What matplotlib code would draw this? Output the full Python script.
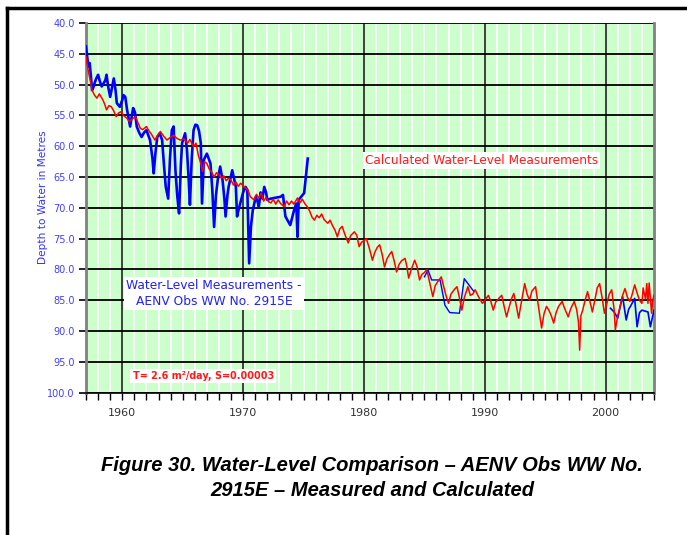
import matplotlib
matplotlib.use("Agg")
import matplotlib.pyplot as plt
import numpy as np
from matplotlib.lines import Line2D

# ---------------- data ----------------
calc_years = [
    1957.0, 1957.2, 1957.4, 1957.5, 1957.7, 1957.9, 1958.1, 1958.25, 1958.4, 1958.55,
    1958.7, 1958.9, 1959.1, 1959.3, 1959.5, 1959.7, 1959.9, 1960.1, 1960.4, 1960.6,
    1960.8, 1961.1, 1961.3, 1961.5, 1961.7, 1962.0, 1962.2, 1962.4, 1962.7, 1962.9,
    1963.15, 1963.4, 1963.7, 1963.95, 1964.25, 1964.5, 1964.8, 1965.1, 1965.4, 1965.6,
    1965.9, 1966.1, 1966.3, 1966.5, 1966.65, 1966.8, 1967.0, 1967.2, 1967.4, 1967.6,
    1967.8, 1968.0, 1968.2, 1968.4, 1968.6, 1968.8, 1969.0, 1969.2, 1969.4, 1969.6,
    1969.8, 1970.0, 1970.2, 1970.4, 1970.6, 1970.9, 1971.1, 1971.3, 1971.5, 1971.7,
    1971.9, 1972.1, 1972.3, 1972.5, 1972.7, 1972.9, 1973.1, 1973.4, 1973.6, 1973.8,
    1974.0, 1974.2, 1974.5, 1974.7, 1974.9, 1975.1, 1975.3, 1975.5, 1975.7, 1975.9,
    1976.1, 1976.3, 1976.5, 1976.7, 1977.0, 1977.2, 1977.4, 1977.6, 1977.8, 1978.0,
    1978.2, 1978.4, 1978.7, 1978.9, 1979.2, 1979.4, 1979.6, 1979.8, 1980.0, 1980.2,
    1980.45, 1980.7, 1980.9, 1981.1, 1981.3, 1981.5, 1981.7, 1981.9, 1982.1, 1982.3,
    1982.5, 1982.7, 1982.9, 1983.1, 1983.4, 1983.55, 1983.7, 1983.95, 1984.2, 1984.4,
    1984.6, 1984.8, 1985.0, 1985.2, 1985.4, 1985.7, 1985.9, 1986.1, 1986.4, 1986.6,
    1986.8, 1987.0, 1987.2, 1987.5, 1987.7, 1987.9, 1988.1, 1988.3, 1988.6, 1988.8,
    1989.0, 1989.2, 1989.5, 1989.8, 1990.0, 1990.3, 1990.5, 1990.7, 1990.9, 1991.2,
    1991.4, 1991.6, 1991.8, 1992.0, 1992.2, 1992.4, 1992.6, 1992.8, 1993.0, 1993.3,
    1993.5, 1993.7, 1993.9, 1994.2, 1994.4, 1994.7, 1994.9, 1995.1, 1995.3, 1995.5,
    1995.7, 1995.9, 1996.1, 1996.4, 1996.6, 1996.9, 1997.1, 1997.4, 1997.6, 1997.75,
    1997.85, 1997.95, 1998.1, 1998.3, 1998.5, 1998.7, 1998.9, 1999.1, 1999.3, 1999.5,
    1999.7, 1999.9, 2000.1, 2000.3, 2000.5, 2000.7, 2000.8, 2001.0, 2001.2, 2001.4,
    2001.6, 2001.8, 2002.0, 2002.2, 2002.4, 2002.6, 2002.8, 2003.0, 2003.1, 2003.3,
    2003.4, 2003.5, 2003.6, 2003.7, 2003.8, 2003.9, 2004.0,
]
calc_depth = [
    45.5, 47.9, 49.8, 50.9, 51.7, 52.2, 51.5, 52.0, 52.5, 53.2,
    54.1, 53.4, 53.6, 54.3, 55.2, 54.6, 54.4, 55.0, 55.5, 56.0,
    55.6, 55.2, 56.2, 57.1, 57.3, 56.8, 57.5, 58.0, 59.0, 58.3,
    57.6, 58.3, 59.0, 58.6, 58.2, 58.7, 59.0, 58.8, 59.5, 58.9,
    60.1, 59.5, 61.5, 62.8, 64.1, 62.5, 62.8, 63.7, 64.2, 65.0,
    64.3, 64.6, 65.2, 64.8, 65.6, 65.2, 65.5, 66.3, 65.8, 66.5,
    66.0, 66.4, 66.8, 67.1, 68.2, 68.7, 67.8, 68.4, 67.6, 68.9,
    68.3, 69.0, 69.2, 68.6, 69.4, 68.7, 69.3, 69.8, 68.9, 69.5,
    68.9, 69.4, 68.4, 69.2, 68.6, 69.3, 69.8, 70.5, 71.5, 72.0,
    71.2, 71.6, 71.0, 71.9, 72.5, 72.0, 72.9, 73.6, 74.7, 73.4,
    73.0, 74.2, 75.7, 74.5, 73.9, 74.4, 76.3, 75.6, 75.3, 75.0,
    76.6, 78.5, 77.2, 76.4, 76.0, 77.5, 79.6, 78.3, 77.6, 77.1,
    78.6, 80.4, 79.2, 78.6, 78.2, 79.5, 81.4, 79.8, 78.5, 79.6,
    81.7, 80.8, 80.5, 80.0, 81.8, 84.4, 82.6, 82.0, 81.2, 82.8,
    84.3, 85.5, 84.0, 83.2, 82.8, 84.6, 86.6, 84.6, 82.8, 84.2,
    84.0, 83.3, 84.5, 85.5, 85.0, 84.2, 85.2, 86.6, 85.3, 84.6,
    84.2, 86.0, 87.7, 86.2, 84.8, 83.9, 85.8, 87.9, 85.6, 82.3,
    84.0, 85.0, 83.5, 82.8, 85.5, 89.5, 87.2, 86.0, 86.6, 87.5,
    88.7, 87.0, 86.0, 85.2, 86.3, 87.7, 86.4, 85.2, 86.5, 88.5,
    93.1, 87.5, 86.6, 85.0, 83.6, 85.2, 86.9, 85.0, 83.0, 82.3,
    84.5, 87.1, 85.5, 84.0, 83.3, 86.5, 89.8, 87.5, 86.0, 84.2,
    83.1, 84.5, 85.2, 84.0, 82.5, 83.8, 85.0, 85.5, 83.0, 84.8,
    82.3, 85.5, 82.2, 84.6, 87.1, 85.0, 84.2,
]

meas_early_years = [
    1957.0, 1957.1, 1957.2, 1957.3, 1957.4, 1957.5, 1957.6, 1957.7, 1957.85, 1958.0,
    1958.15, 1958.3, 1958.45, 1958.6, 1958.7, 1958.85, 1959.0, 1959.15, 1959.3, 1959.45,
    1959.55, 1959.8, 1960.0, 1960.1, 1960.25, 1960.4, 1960.65, 1960.9, 1961.05, 1961.2,
    1961.4, 1961.6, 1961.8, 1962.0, 1962.3, 1962.5, 1962.6, 1962.75, 1962.9, 1963.1,
    1963.3, 1963.45, 1963.6, 1963.8, 1963.95, 1964.1, 1964.25, 1964.4, 1964.55, 1964.7,
    1964.85, 1964.95, 1965.2, 1965.35, 1965.5, 1965.6, 1965.75, 1965.9, 1966.05, 1966.2,
    1966.35, 1966.5, 1966.6, 1966.75, 1967.0, 1967.3, 1967.45, 1967.6, 1967.75, 1967.9,
    1968.1, 1968.3, 1968.45, 1968.55, 1968.7, 1968.8, 1969.1, 1969.4, 1969.5, 1969.6,
    1970.0, 1970.2, 1970.35, 1970.5, 1970.65, 1970.8, 1971.05, 1971.2, 1971.3, 1971.45,
    1971.6, 1971.75, 1971.9, 1972.0, 1972.3, 1973.1, 1973.3, 1973.5, 1973.9, 1974.2,
    1974.4, 1974.5, 1974.6, 1975.05, 1975.35,
]
meas_early_depth = [
    43.8, 45.5, 47.1, 46.5, 48.5, 50.9, 50.5, 49.8, 49.0, 48.4,
    49.5, 50.3, 49.8, 49.3, 48.4, 50.5, 52.0, 50.5, 49.0, 51.0,
    53.0, 53.6, 52.5, 51.7, 52.0, 54.1, 56.8, 53.8, 54.5, 56.8,
    57.8, 58.5, 57.8, 57.4, 59.0, 62.0, 64.4, 61.0, 58.5, 57.9,
    59.0, 63.0, 66.6, 68.5, 62.0, 57.4, 56.8, 63.9, 68.0, 70.9,
    63.0, 59.5, 57.9, 60.5, 65.5, 69.5, 62.0, 57.4, 56.5, 56.6,
    57.5, 59.5, 69.3, 62.2, 61.2, 62.8, 67.0, 73.1, 68.0, 65.5,
    63.3, 65.5, 68.5, 71.4, 68.0, 66.6, 63.9, 66.6, 71.4, 70.5,
    67.5, 66.6, 67.1, 79.0, 73.0, 70.4, 68.2, 69.0, 69.8, 67.5,
    68.5, 66.6, 67.5, 68.7, 68.5, 68.2, 67.9, 71.4, 72.8, 70.5,
    69.3, 74.7, 68.7, 67.6, 62.0,
]

meas_mid_years = [1985.0, 1985.3, 1985.6, 1985.9, 1986.3, 1986.7, 1987.1, 1987.9, 1988.3, 1989.1]
meas_mid_depth = [81.2, 80.1, 81.7, 81.7, 81.7, 85.8, 87.0, 87.1, 81.5, 83.6]

meas_late_years = [2000.4, 2000.7, 2001.0, 2001.2, 2001.4, 2001.7, 2001.9, 2002.1, 2002.4,
                   2002.6, 2002.8, 2003.0, 2003.5, 2003.7, 2004.0]
meas_late_depth = [86.3, 86.9, 87.9, 86.0, 84.4, 88.2, 86.5, 85.8, 84.7,
                   89.3, 87.0, 86.6, 86.9, 89.3, 86.6]

x_ticks = [1960, 1970, 1980, 1990, 2000]
y_ticks = [40, 45, 50, 55, 60, 65, 70, 75, 80, 85, 90, 95, 100]

# ---------------- figure ----------------
W, H = 687, 535
fig = plt.figure(figsize=(W / 100, H / 100), dpi=100)
fig.patch.set_facecolor("white")

ax = fig.add_axes([86 / W, 1 - 392.7 / H, (654 - 86) / W, (392.7 - 23) / H])
ax.set_facecolor("#ccffcc")
ax.set_xlim(1957, 2004)
ax.set_ylim(100, 40)

ax.set_xticks(np.arange(1957, 2005), minor=True)
ax.set_xticks(x_ticks)
ax.set_yticks(y_ticks)
ax.grid(True, which="minor", axis="x", color="white", lw=1.3, zorder=0)
ax.grid(True, which="major", axis="x", color="#333333", lw=1.3, zorder=0.5)
ax.grid(True, which="major", axis="y", color="black", lw=1.3, zorder=0.5)
ax.set_axisbelow(True)

ax.tick_params(axis="x", which="both", direction="out", length=5, width=1, color="black",
               labelsize=8, labelcolor="#333333", pad=6)
ax.tick_params(axis="y", which="major", direction="out", length=5, width=1.2, color="black",
               labelsize=7, labelcolor="#4040ff", pad=3)
ax.set_yticklabels([f"{v:.1f}" for v in y_ticks])
ax.set_xticklabels([str(v) for v in x_ticks])

for s in ("left", "right"):
    ax.spines[s].set_color("#808080")
    ax.spines[s].set_linewidth(2)
ax.spines["top"].set_visible(False)
ax.spines["bottom"].set_color("black")
ax.spines["bottom"].set_linewidth(1.2)

# series
ax.plot(meas_early_years, meas_early_depth, color="#0000ff", lw=1.9, zorder=3)
ax.plot(meas_mid_years, meas_mid_depth, color="#0000ff", lw=1.0, zorder=3)
ax.plot(meas_late_years, meas_late_depth, color="#0000ff", lw=1.2, zorder=3)
ax.plot(calc_years, calc_depth, color="#ff0000", lw=1.1, zorder=4)

ax.set_ylabel("Depth to Water in Metres", color="#3333ff", fontsize=7.6)
ax.yaxis.set_label_coords(-0.067, 0.53)

box = dict(facecolor="white", edgecolor="none", pad=1.5)
ax.text(1989.7, 62.3, "Calculated Water-Level Measurements", color="#ff1a1a",
        fontsize=8.7, ha="center", va="center", bbox=box, zorder=6)
ax.text(1967.6, 83.9, "Water-Level Measurements -\nAENV Obs WW No. 2915E", color="#2222ee",
        fontsize=8.8, ha="center", va="center", linespacing=1.3, bbox=box, zorder=6)
ax.text(1966.7, 97.3, "T= 2.6 m²/day, S=0.00003", color="#ff1a1a", fontsize=6.9,
        fontweight="bold", ha="center", va="center", bbox=box, zorder=6)

# caption
fig.text(372 / W, 1 - 478 / H,
         "Figure 30. Water-Level Comparison – AENV Obs WW No.\n2915E – Measured and Calculated",
         family="Liberation Sans", fontsize=14.5, fontweight="bold", fontstyle="italic",
         ha="center", va="center", linespacing=1.4)

# outer frame (left & top edges)
fig.add_artist(Line2D([7 / W, 7 / W], [0, 1 - 7.5 / H], transform=fig.transFigure,
                      color="black", lw=2.5))
fig.add_artist(Line2D([7 / W, 1], [1 - 7.5 / H, 1 - 7.5 / H], transform=fig.transFigure,
                      color="black", lw=2.5))

fig.savefig("out.png", dpi=100)
